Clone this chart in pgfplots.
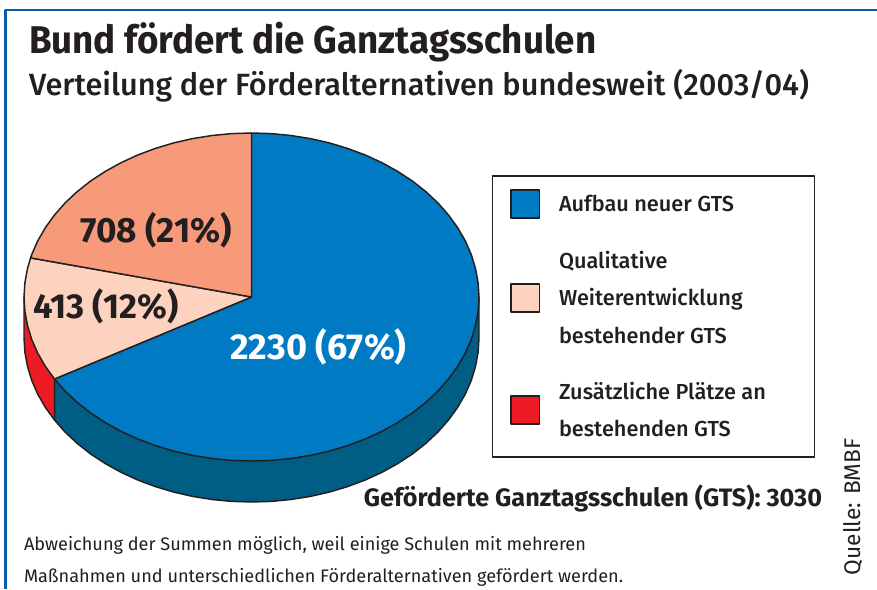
\documentclass[border=0pt]{standalone}
\usepackage{pgfplots}
\pgfplotsset{compat=1.18}
\usepackage{fontspec}
\setmainfont{Fira Sans}
\newfontfamily\medfont{Fira Sans Medium}
\definecolor{cblue}{HTML}{007AC3}
\definecolor{cdark}{HTML}{005E85}
\definecolor{csalmon}{HTML}{F69A7A}
\definecolor{clight}{HTML}{FDD3BF}
\definecolor{cred}{HTML}{ED1C24}
\definecolor{ctext}{HTML}{231F20}
\definecolor{cframe}{HTML}{0B5CA8}
\begin{document}
\begin{tikzpicture}
\begin{axis}[
  width=657.75pt,height=441.75pt,scale only axis,hide axis,
  xmin=0,xmax=877,ymin=0,ymax=589,y dir=reverse,clip=false,
  every axis plot/.append style={line width=1.1pt,draw=ctext,line join=round},
]
\path (axis cs:0,0) rectangle (axis cs:877,589);
% side wall, blue part
\addplot[fill=cdark] coordinates {
(479,297)(479,338)(478.1,352.3)(475.5,366.5)(471.3,380.4)(465.3,394.1)(457.7,407.3)(448.5,420)(437.9,432.1)(425.8,443.4)(412.4,454)(397.7,463.6)(382,472.3)(365.25,480)(347.6,486.6)(329.3,492.1)(310.4,496.4)(291,499.5)(271.3,501.4)(251.5,502)(231.7,501.4)(212,499.5)(192.6,496.4)(173.7,492.1)(155.4,486.6)(137.75,480)(121,472.3)(105.3,463.6)(90.6,454)(77.2,443.4)(65.1,432.1)(54.5,420)(54.5,379)} -- cycle;
% side wall, red part
\addplot[fill=cred] coordinates {
(54.5,379)(54.5,420)(45.3,407.3)(37.7,394.1)(31.7,380.4)(27.5,366.5)(24.9,352.3)(24,338)(24,297)} -- cycle;
% top: Aufbau neuer GTS 2230
\addplot[fill=cblue] coordinates {
(251.5,297)(251.5,133)(271.3,133.6)(291,135.5)(310.4,138.6)(329.3,142.9)(347.6,148.4)(365.25,155)(382,162.7)(397.7,171.4)(412.4,181)(425.8,191.6)(437.9,202.9)(448.5,215)(457.7,227.7)(465.3,240.9)(471.3,254.6)(475.5,268.5)(478.1,282.7)(479,297)(478.1,311.3)(475.5,325.5)(471.3,339.4)(465.3,353.1)(457.7,366.3)(448.5,379)(437.9,391.1)(425.8,402.4)(412.4,413)(397.7,422.6)(382,431.3)(365.25,439)(347.6,445.6)(329.3,451.1)(310.4,455.4)(291,458.5)(271.3,460.4)(251.5,461)(231.7,460.4)(212,458.5)(192.6,455.4)(173.7,451.1)(155.4,445.6)(137.75,439)(121,431.3)(105.3,422.6)(90.6,413)(77.2,402.4)(65.1,391.1)(54.5,379)} -- cycle;
% top: Qualitative 413
\addplot[fill=clight] coordinates {
(251.5,297)(54.5,379)(45.3,366.3)(37.7,353.1)(31.7,339.4)(27.5,325.5)(24.9,311.3)(24,297)(24.9,282.7)(27.5,268.5)(30.6,257.9)} -- cycle;
% top: Zusaetzliche 708
\addplot[fill=csalmon] coordinates {
(251.5,297)(30.6,257.9)(31.7,254.6)(37.7,240.9)(45.3,227.7)(54.5,215)(65.1,202.9)(77.2,191.6)(90.6,181)(105.3,171.4)(121,162.7)(137.75,155)(155.4,148.4)(173.7,142.9)(192.6,138.6)(212,135.5)(231.7,133.6)(251.5,133)} -- cycle;
% frame
\addplot[overlay,draw=cframe,line width=2pt] coordinates {(5.5,589)(5.5,10)(877,10)};
% legend box
\addplot[line width=1pt] coordinates {(492.5,176)(814.5,176)(814.5,457)(492.5,457)} -- cycle;
\addplot[fill=cblue] coordinates {(511,190)(539.5,190)(539.5,218)(511,218)} -- cycle;
\addplot[fill=clight] coordinates {(511,284)(539.5,284)(539.5,312)(511,312)} -- cycle;
\addplot[fill=cred] coordinates {(511,396)(539.5,396)(539.5,424)(511,424)} -- cycle;
\begin{scope}[every node/.style={text=ctext,inner sep=0pt,outer sep=0pt}]
\node[anchor=base west,font=\bfseries\fontsize{29}{29}\selectfont] at (axis cs:29,53) {\scalebox{0.95}[1]{Bund fördert die Ganztagsschulen}};
\node[anchor=base west,font=\medfont\fontsize{23.05}{23.05}\selectfont] at (axis cs:29,95) {Verteilung der Förderalternativen bundesweit (2003/04)};
\node[anchor=base,font=\bfseries\fontsize{26.3}{26.3}\selectfont] at (axis cs:156,242) {708 (21\%)};
\node[anchor=base,font=\bfseries\fontsize{26}{26}\selectfont] at (axis cs:106,318) {413 (12\%)};
\node[anchor=base,font=\bfseries\fontsize{27}{27}\selectfont,text=white] at (axis cs:318.5,359) {2230 (67\%)};
\node[anchor=base west,font=\medfont\fontsize{16.3}{16.3}\selectfont] at (axis cs:559,211) {Aufbau neuer GTS};
\node[anchor=base west,font=\medfont\fontsize{16.3}{16.3}\selectfont] at (axis cs:559,268) {Qualitative};
\node[anchor=base west,font=\medfont\fontsize{16.3}{16.3}\selectfont] at (axis cs:559,305) {Weiterentwicklung};
\node[anchor=base west,font=\medfont\fontsize{16.3}{16.3}\selectfont] at (axis cs:559,343) {bestehender GTS};
\node[anchor=base west,font=\medfont\fontsize{16.3}{16.3}\selectfont] at (axis cs:559,399) {Zusätzliche Plätze an};
\node[anchor=base west,font=\medfont\fontsize{16.3}{16.3}\selectfont] at (axis cs:559,436) {bestehenden GTS};
\node[anchor=base east,font=\bfseries\fontsize{18.9}{18.9}\selectfont] at (axis cs:822,506) {Geförderte Ganztagsschulen (GTS): 3030};
\node[anchor=base west,font=\fontsize{13.6}{13.6}\selectfont] at (axis cs:24,550) {Abweichung der Summen möglich, weil einige Schulen mit mehreren};
\node[anchor=base west,font=\fontsize{13.6}{13.6}\selectfont] at (axis cs:24,582) {Maßnahmen und unterschiedlichen Förderalternativen gefördert werden.};
\node[anchor=base west,rotate=90,font=\fontsize{17}{17}\selectfont] at (axis cs:860,575) {Quelle: BMBF};
\end{scope}
\end{axis}
\end{tikzpicture}
\end{document}
